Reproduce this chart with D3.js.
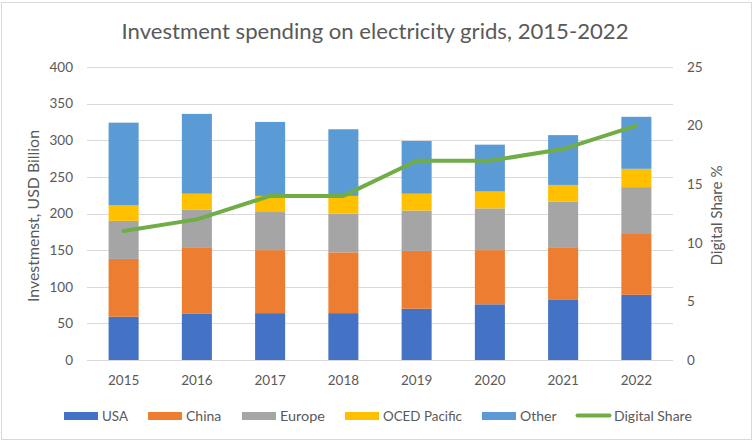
<!DOCTYPE html>
<html><head><meta charset="utf-8">
<script src="https://cdn.jsdelivr.net/npm/d3@7"></script>
<style>html,body{margin:0;padding:0;background:#fff;} svg{display:block;font-family:Lato, "Open Sans", sans-serif;}</style>
</head><body>
<svg id="c" width="756" height="446"></svg>
<script>
const years = ["2015","2016","2017","2018","2019","2020","2021","2022"];
const usa    = [59, 63, 64, 64, 70, 76, 82, 89];
const china  = [79, 90, 86, 83, 79, 74, 71, 83];
const europe = [52, 52, 52, 53, 55, 57, 63, 64];
const oced   = [21, 22, 22, 24, 23, 23, 23, 25];
const other  = [113, 109, 101, 91, 72, 64, 68, 71];
const digitalShare = [11, 12, 14, 14, 17, 17, 18, 20];
const leftTicks = [0, 50, 100, 150, 200, 250, 300, 350, 400];
const rightTicks = [0, 5, 10, 15, 20, 25];
const seriesNames = ["USA", "China", "Europe", "OCED Pacific", "Other"];
const seriesColors = ["#4472C4", "#ED7D31", "#A5A5A5", "#FFC000", "#5B9BD5"];
const lineName = "Digital Share";
const lineColor = "#70AD47";

const svg = d3.select("#c");
const textColor = "#595959";
const font = "Lato, 'Open Sans', sans-serif";
const M = {left: 87, right: 673, top: 67, bottom: 360};

// fit text to a measured target width (reference widths)
function fit(sel, w) {
  const len = sel.node().getComputedTextLength();
  if (Math.abs(len - w) > 1) sel.attr("textLength", w).attr("lengthAdjust", "spacingAndGlyphs");
  return sel;
}

svg.append("rect").attr("x", 1.5).attr("y", 2.5).attr("width", 750).attr("height", 437)
  .attr("fill", "#fff").attr("stroke", "#D9D9D9").attr("stroke-width", 1);

const x = d3.scaleBand().domain(years).range([M.left, M.right]).paddingInner(0.59).paddingOuter(0.295);
const y = d3.scaleLinear().domain([0, 400]).range([M.bottom, M.top]);
const y2 = d3.scaleLinear().domain([0, 25]).range([M.bottom, M.top]);

// gridlines
svg.append("g").selectAll("line").data(leftTicks).join("line")
  .attr("x1", M.left).attr("x2", M.right)
  .attr("y1", d => Math.round(y(d)) + 0.5).attr("y2", d => Math.round(y(d)) + 0.5)
  .attr("stroke", "#D9D9D9").attr("stroke-width", 1);

// stacked data
const rows = years.map((yr, i) => ({year: yr, s0: usa[i], s1: china[i], s2: europe[i], s3: oced[i], s4: other[i]}));
const keys = ["s0", "s1", "s2", "s3", "s4"];
const stacked = d3.stack().keys(keys)(rows);

svg.append("g").selectAll("g").data(stacked).join("g")
  .attr("fill", (d, i) => seriesColors[i])
  .selectAll("rect").data(d => d).join("rect")
  .attr("x", d => x(d.data.year))
  .attr("width", x.bandwidth())
  .attr("y", d => y(d[1]))
  .attr("height", d => y(d[0]) - y(d[1]));

// line
const line = d3.line().x((d, i) => x(years[i]) + x.bandwidth() / 2).y(d => y2(d));
svg.append("path").datum(digitalShare).attr("d", line)
  .attr("fill", "none").attr("stroke", lineColor).attr("stroke-width", 4)
  .attr("stroke-linejoin", "round").attr("stroke-linecap", "round");

// left axis
const leftAxis = d3.axisLeft(y).tickValues(leftTicks).tickSize(0).tickPadding(14);
const gl = svg.append("g").attr("transform", `translate(${M.left},0)`).call(leftAxis);
gl.select(".domain").remove();
gl.selectAll("text").attr("fill", textColor).style("font-size", "13.5px").style("font-family", font);

// right axis
const rightAxis = d3.axisRight(y2).tickValues(rightTicks).tickSize(0).tickPadding(14);
const gr = svg.append("g").attr("transform", `translate(${M.right},0)`).call(rightAxis);
gr.select(".domain").remove();
gr.selectAll("text").attr("fill", textColor).style("font-size", "13.5px").style("font-family", font);

// x axis
const xAxis = d3.axisBottom(x).tickSize(0).tickPadding(15);
const gx = svg.append("g").attr("transform", `translate(0,${M.bottom})`).call(xAxis);
gx.select(".domain").remove();
gx.selectAll("text").attr("fill", textColor).style("font-size", "13.5px").style("font-family", font);

// title
fit(svg.append("text").attr("x", 375).attr("y", 39).attr("text-anchor", "middle")
  .attr("fill", textColor).style("font-size", "21px").style("font-family", font)
  .text("Investment spending on electricity grids, 2015-2022"), 507);

// axis titles
fit(svg.append("text").attr("transform", "translate(39,216) rotate(-90)").attr("text-anchor", "middle")
  .attr("fill", textColor).style("font-size", "14.5px").style("font-family", font)
  .text("Investmenst, USD Billion"), 172);
fit(svg.append("text").attr("transform", "translate(722,215.5) rotate(-90)").attr("text-anchor", "middle")
  .attr("fill", textColor).style("font-size", "14.5px").style("font-family", font)
  .text("Digital Share %"), 100);

// legend
const legendItems = seriesNames.map((n, i) => ({name: n, color: seriesColors[i], type: "rect"}))
  .concat([{name: lineName, color: lineColor, type: "line"}]);
const legendX = [64, 148, 242, 345, 482, 576];
const legendW = [26, 35, 45, 79, 36, 78];
const lg = svg.append("g");
legendItems.forEach((d, i) => {
  const gx0 = legendX[i];
  if (d.type === "rect") {
    lg.append("rect").attr("x", gx0).attr("y", 412).attr("width", 34).attr("height", 8).attr("fill", d.color);
  } else {
    lg.append("line").attr("x1", gx0 + 1.5).attr("x2", gx0 + 33.5).attr("y1", 415.5).attr("y2", 415.5)
      .attr("stroke", d.color).attr("stroke-width", 4).attr("stroke-linecap", "round");
  }
  fit(lg.append("text").attr("x", gx0 + 38).attr("y", 420.5).attr("fill", textColor)
    .style("font-size", "14px").style("font-family", font).text(d.name), legendW[i]);
});
</script>
</body></html>
